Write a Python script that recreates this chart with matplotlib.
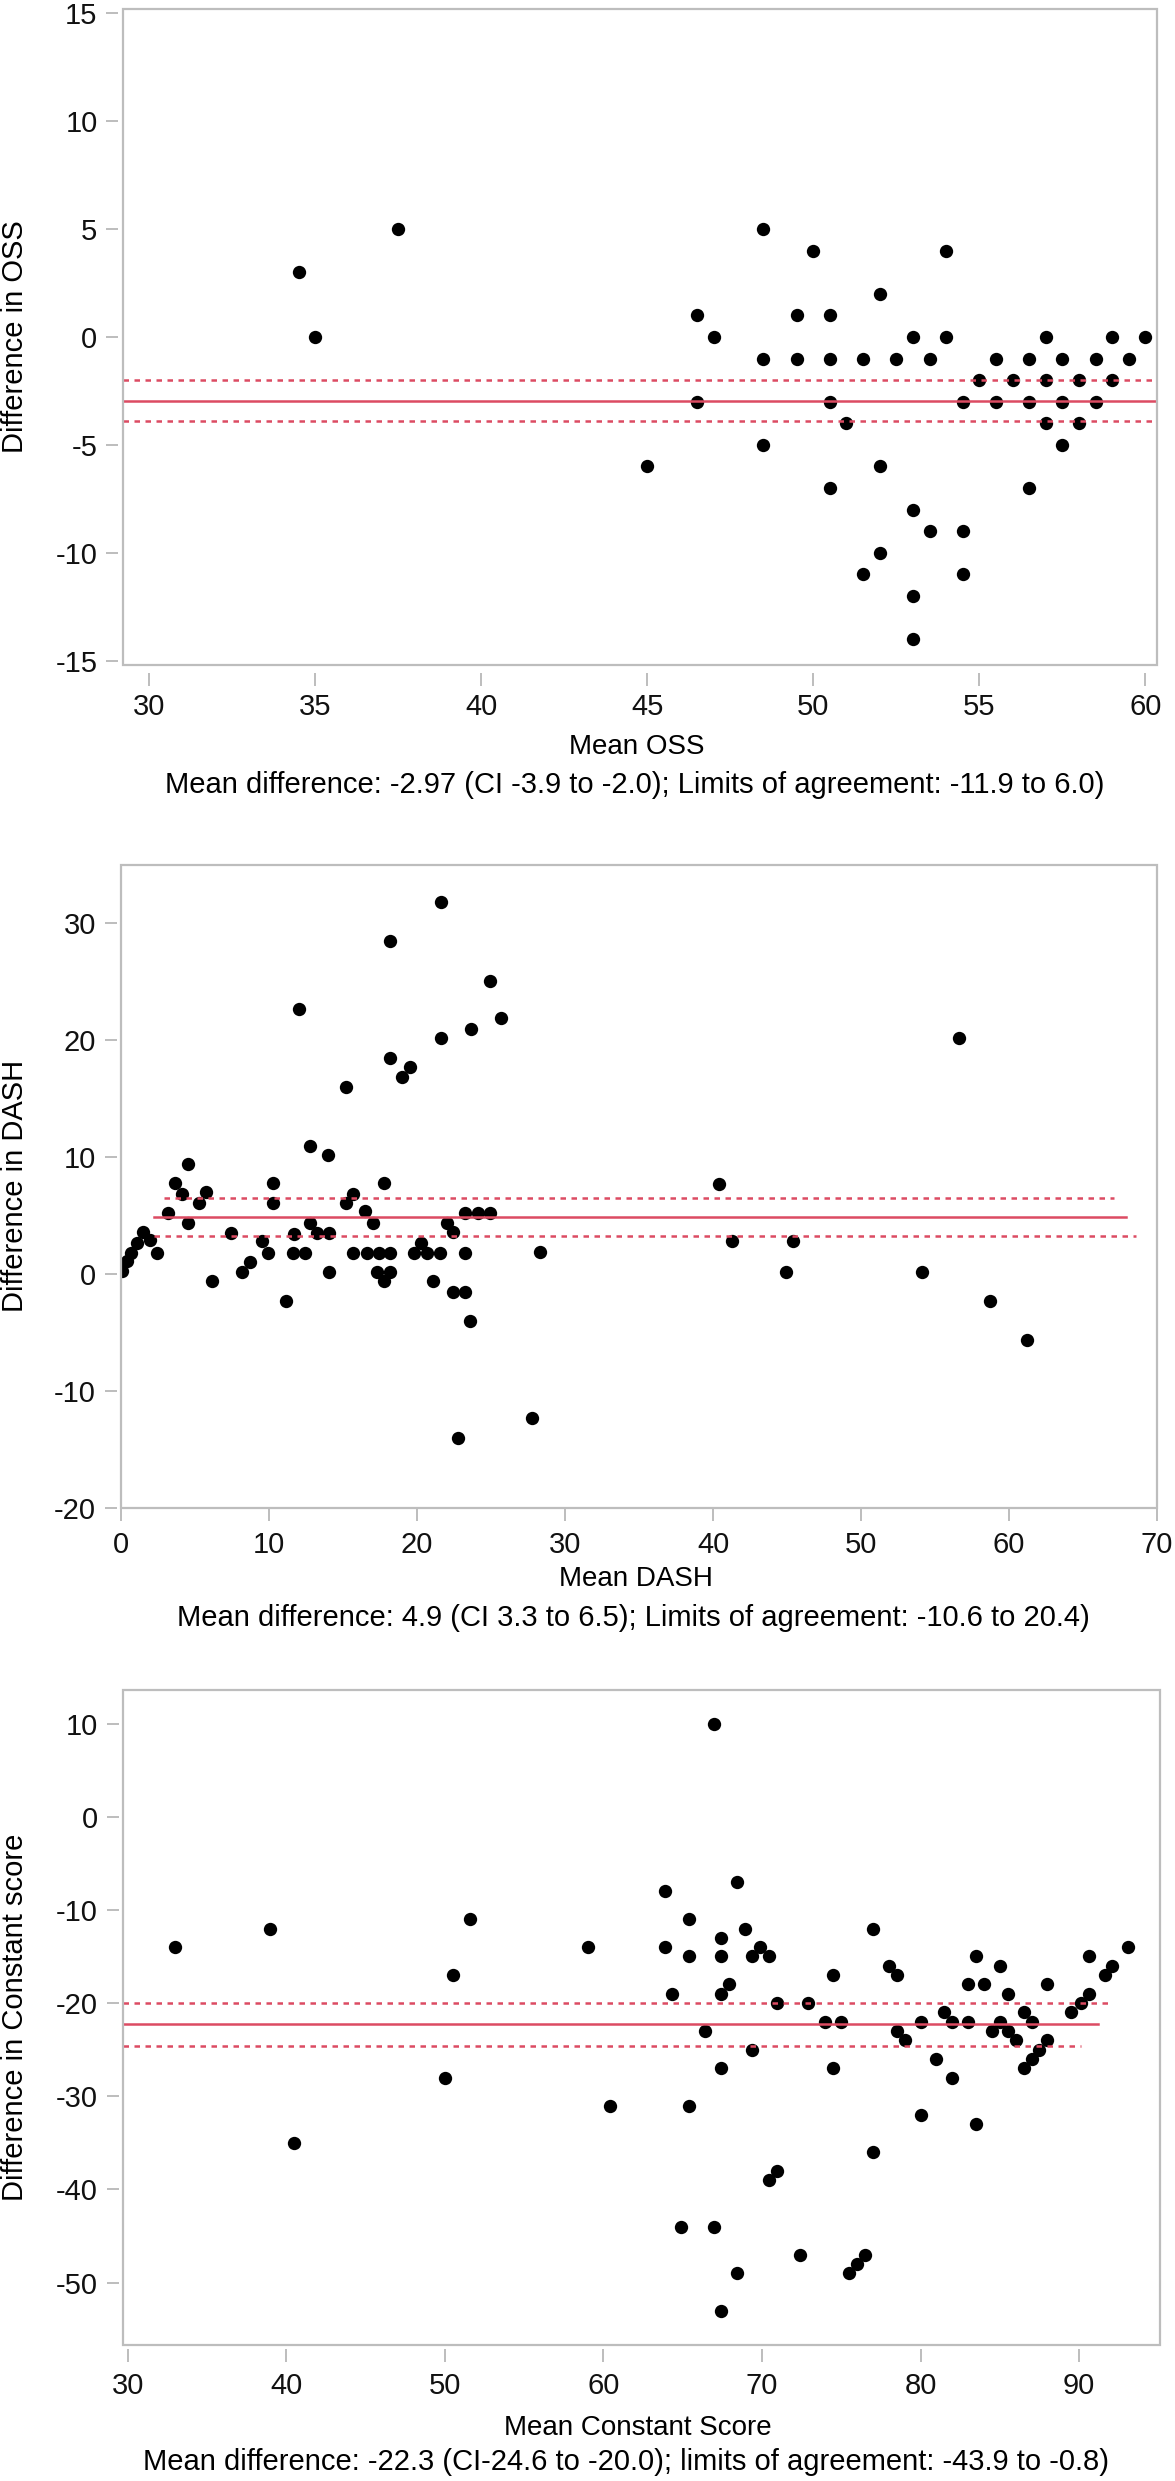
import numpy as np
import matplotlib
matplotlib.use('Agg')
import matplotlib.pyplot as plt
from matplotlib.patches import Rectangle

plt.rcParams['font.family'] = ['Liberation Sans', 'DejaVu Sans']
plt.rcParams['axes.unicode_minus'] = False

# ─── Data: OSS ─────────────────────────────────────────────
oss_mean = [34.5, 35, 37.5, 45, 46.5, 46.5, 47,
            48.5, 48.5, 48.5, 49.5, 49.5, 50, 50.5, 50.5, 50.5, 50.5,
            51, 51.5, 51.5, 52, 52, 52, 52.5, 53, 53, 53, 53,
            53.5, 53.5, 54, 54, 54.5, 54.5, 54.5, 55, 55.5, 55.5,
            56, 56.5, 56.5, 56.5, 57, 57, 57, 57.5, 57.5, 57.5,
            58, 58, 58.5, 58.5, 59, 59, 59.5, 60]
oss_diff = [3, 0, 5, -6, 1, -3, 0,
            5, -1, -5, 1, -1, 4, 1, -1, -3, -7,
            -4, -1, -11, 2, -6, -10, -1, 0, -8, -12, -14,
            -1, -9, 4, 0, -3, -9, -11, -2, -1, -3,
            -2, -1, -3, -7, 0, -2, -4, -1, -3, -5,
            -2, -4, -1, -3, 0, -2, -1, 0]
oss_bias = -2.97
oss_ci = [-3.9, -2.0]

# ─── Data: DASH ────────────────────────────────────────────
dash_mean = [0.05, 0.4, 0.7, 1.05, 1.5, 1.95, 2.45,
             3.2, 3.65, 4.1, 4.5, 4.55, 5.3, 5.75, 6.15,
             7.4, 8.2, 8.7, 9.5, 9.95, 10.3, 10.3, 11.15, 11.7, 11.6,
             12.4, 12.0, 12.8, 12.8, 13.25, 14.05, 14.05, 14.0,
             15.2, 15.2, 15.7, 15.7, 16.5, 17.0, 16.6, 17.4, 17.8, 18.2,
             17.3, 18.2, 17.8, 18.2, 18.2, 19.0, 19.5,
             19.8, 20.3, 20.7, 21.55, 21.1, 21.6, 21.6, 22.0, 22.4, 22.4,
             23.25, 23.25, 23.6, 23.25, 24.1, 24.9, 23.65, 24.9, 25.7, 22.8,
             27.8, 28.3, 40.4, 41.25, 45.4, 44.95, 54.1, 56.6, 58.7, 61.2]
dash_diff = [0.3, 1.1, 1.8, 2.7, 3.6, 2.9, 1.8,
             5.2, 7.8, 6.9, 9.4, 4.4, 6.1, 7.0, -0.6,
             3.5, 0.2, 1.0, 2.8, 1.8, 7.8, 6.1, -2.3, 3.4, 1.8,
             1.8, 22.7, 11.0, 4.4, 3.5, 3.5, 0.2, 10.2,
             16.0, 6.1, 6.9, 1.8, 5.4, 4.4, 1.8, 1.8, 7.8, 1.8,
             0.2, 0.2, -0.6, 18.5, 28.5, 16.9, 17.7,
             1.8, 2.7, 1.8, 1.8, -0.6, 20.2, 31.8, 4.4, 3.6, -1.5,
             -1.5, 1.8, -4.0, 5.2, 5.2, 5.2, 21.0, 25.1, 21.9, -14.0,
             -12.3, 1.9, 7.7, 2.8, 2.8, 0.2, 0.2, 20.2, -2.3, -5.6]
dash_bias = 4.9
dash_ci = [3.3, 6.5]
dash_bias_span = [2.2, 67.9]
dash_ci_span = [[2.2, 68.6], [2.9, 67.1]]

# ─── Data: Constant score ──────────────────────────────────
cs_mean = [33.0, 39.0, 40.5, 50.0, 50.5, 51.6, 59.0, 60.4,
           63.9, 63.9, 64.35, 64.9, 65.4, 65.4, 65.4, 66.4, 66.95, 66.95,
           67.4, 67.4, 67.4, 67.4, 67.4, 67.9, 68.4, 68.4, 68.95, 69.4, 69.4,
           69.9, 70.45, 70.45, 70.95, 70.95, 72.4, 72.9, 74.0, 74.5, 74.5, 75.0,
           75.5, 76.0, 76.5, 77.0, 77.0, 78.0, 78.5, 78.5, 79.0, 80.0, 80.0,
           81.0, 81.5, 82.0, 82.0, 83.0, 83.0, 83.5, 83.5, 84.0, 84.5,
           85.0, 85.0, 85.5, 85.5, 86.0, 86.5, 86.5, 87.0, 87.0, 87.5,
           88.0, 88.0, 89.5, 90.1, 90.6, 90.6, 91.6, 92.1, 93.1]
cs_diff = [-14, -12, -35, -28, -17, -11, -14, -31,
           -8, -14, -19, -44, -11, -15, -31, -23, 10, -44,
           -13, -15, -19, -27, -53, -18, -7, -49, -12, -15, -25,
           -14, -15, -39, -38, -20, -47, -20, -22, -17, -27, -22,
           -49, -48, -47, -12, -36, -16, -17, -23, -24, -22, -32,
           -26, -21, -22, -28, -18, -22, -15, -33, -18, -23,
           -16, -22, -19, -23, -24, -21, -27, -22, -26, -25,
           -18, -24, -21, -20, -19, -15, -17, -16, -14]
cs_bias = -22.3
cs_ci = [-24.6, -20.0]
cs_bias_span = [29.7, 91.2]
cs_ci_span = [[29.7, 90.1], [29.7, 92.0]]

W, H = 1175, 2481
RED = '#dc4b62'
GRID = '#bdbdbd'
TICK_FS = 21
YLAB_FS = 21
XLAB_FS = 20
CAP_FS = 21

fig = plt.figure(figsize=(W / 100, H / 100), dpi=100)


def box(left, top, right, bottom):
    return [left / W, 1 - bottom / H, (right - left) / W, (bottom - top) / H]


def panel(rect, x, y, bias, ci, xlim, ylim, xticks, yticks,
          x_out, x_pad, bias_span=None, ci_span=None):
    ax = fig.add_axes(rect)
    ax.scatter(x, y, s=92, color='black', linewidths=0, zorder=2)

    if bias_span is None:
        bias_span = xlim
        ci_span = [xlim, xlim]
    ax.plot(bias_span, [bias, bias], color=RED, lw=1.8, zorder=3)
    for val, span in zip(ci, ci_span):
        ax.plot(span, [val, val], color=RED, lw=1.8, ls=(0, (2.2, 2.2)), zorder=3)

    ax.set_xlim(xlim)
    ax.set_ylim(ylim)
    ax.set_xticks(xticks)
    ax.set_yticks(yticks)

    for s in ax.spines.values():
        s.set_visible(False)
    ax.spines['left'].set_position(('outward', 3))
    ax.spines['bottom'].set_position(('outward', x_out))
    ax.add_patch(Rectangle((0, 0), 1, 1, transform=ax.transAxes, fill=False,
                           ec=GRID, lw=1.6, clip_on=False, zorder=5))
    ax.tick_params(axis='both', length=9, width=1.4, color=GRID,
                   labelsize=TICK_FS, labelcolor='#111111')
    ax.tick_params(axis='x', pad=x_pad)
    ax.tick_params(axis='y', pad=6)
    return ax


def labels(ylab, ycen, xlab, xlab_pos, cap, cap_pos):
    fig.text(15 / W, 1 - ycen / H, ylab, rotation=90,
             ha='center', va='center', fontsize=YLAB_FS)
    fig.text(xlab_pos[0] / W, 1 - xlab_pos[1] / H, xlab,
             ha='center', va='center', fontsize=XLAB_FS)
    fig.text(cap_pos[0] / W, 1 - cap_pos[1] / H, cap,
             ha='center', va='center', fontsize=CAP_FS)


# ─── Panel 1 ──────────────────────────────────────────────
panel(box(122.5, 9, 1157, 665), oss_mean, oss_diff, oss_bias, oss_ci,
      (29.2, 60.35), (-15.2, 15.2), range(30, 61, 5), range(-15, 16, 5), 6, 5)
labels('Difference in OSS', 337, 'Mean OSS', (637, 747),
       'Mean difference: -2.97 (CI -3.9 to -2.0); Limits of agreement: -11.9 to 6.0)',
       (635, 785))

# ─── Panel 2 ──────────────────────────────────────────────
panel(box(121, 865, 1157, 1508), dash_mean, dash_diff, dash_bias, dash_ci,
      (0, 70), (-20, 35), range(0, 71, 10), range(-20, 31, 10), 0, 7.5,
      dash_bias_span, dash_ci_span)
labels('Difference in DASH', 1186, 'Mean DASH', (636, 1579),
       'Mean difference: 4.9 (CI 3.3 to 6.5); Limits of agreement: -10.6 to 20.4)',
       (633, 1618))

# ─── Panel 3 ──────────────────────────────────────────────
panel(box(123, 1690, 1160, 2345), cs_mean, cs_diff, cs_bias, cs_ci,
      (29.7, 95.1), (-56.7, 13.6), range(30, 91, 10), range(-50, 11, 10), 3, 7.4,
      cs_bias_span, cs_ci_span)
labels('Difference in Constant score', 2017, 'Mean Constant Score', (638, 2428),
       'Mean difference: -22.3 (CI-24.6 to -20.0); limits of agreement: -43.9 to -0.8)',
       (626, 2462))

fig.savefig('out.png', dpi=100, facecolor='white')
